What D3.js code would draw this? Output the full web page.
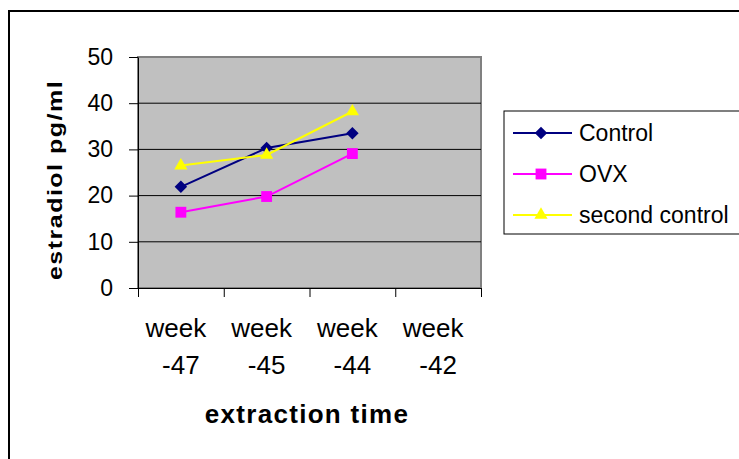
<!DOCTYPE html>
<html>
<head>
<meta charset="utf-8">
<script src="https://cdn.jsdelivr.net/npm/d3@7"></script>
<style>
  body { margin: 0; background: #fff; }
  svg { display: block; font-family: "Liberation Sans", Arial, sans-serif; }
</style>
</head>
<body>
<svg id="chart" width="739" height="459"></svg>
<script>
// data
const weeks = [ '-47', '-45', '-44', '-42' ]
const control = [ 21.9, 30.3, 33.5 ]
const ovx = [ 16.4, 19.8, 29.1 ]
const secondControl = [ 26.5, 28.8, 38.2 ]
const yTicks = [ 0, 10, 20, 30, 40, 50 ]

const series = [
    { name: 'Control', values: control, color: '#000080', marker: d3.symbolDiamond2, size: 100 },
    { name: 'OVX', values: ovx, color: '#ff00ff', marker: d3.symbolSquare2, size: 150 },
    { name: 'second control', values: secondControl, color: '#ffff00', marker: d3.symbolTriangle2, size: 125 }
]

const svg = d3.select( '#chart' )
const plot = { left: 138, right: 481, top: 57, bottom: 288 }

// outer chart frame (runs off the right and bottom)
svg.append( 'rect' )
    .attr( 'x', 9 ).attr( 'y', 11 )
    .attr( 'width', 800 ).attr( 'height', 500 )
    .attr( 'fill', '#fff' ).attr( 'stroke', '#000' ).attr( 'stroke-width', 2 )

const x = d3.scaleBand().domain( weeks ).range( [ plot.left, plot.right ] )
const xEdge = d3.scaleLinear().domain( [ 0, weeks.length ] ).range( [ plot.left, plot.right ] )
const y = d3.scaleLinear().domain( [ 0, 50 ] ).range( [ plot.bottom, plot.top ] )
const cx = d => x( d ) + x.bandwidth() / 2

svg.append( 'rect' )
    .attr( 'x', plot.left ).attr( 'y', plot.top )
    .attr( 'width', plot.right - plot.left ).attr( 'height', plot.bottom - plot.top )
    .attr( 'fill', '#c0c0c0' ).attr( 'stroke', '#808080' ).attr( 'stroke-width', 2 )

svg.append( 'g' )
    .selectAll( 'line' )
    .data( yTicks.filter( t => t > 0 && t < 50 ) )
    .join( 'line' )
    .attr( 'x1', plot.left ).attr( 'x2', plot.right )
    .attr( 'y1', d => y( d ) ).attr( 'y2', d => y( d ) )
    .attr( 'stroke', '#000' ).attr( 'stroke-width', 1 )

const yAxis = svg.append( 'g' )
    .attr( 'transform', `translate(${plot.left},0)` )
    .call( d3.axisLeft( y ).tickValues( yTicks ).tickSizeInner( 9 ).tickSizeOuter( 0 ).tickPadding( 16 ) )
yAxis.select( '.domain' ).attr( 'stroke', '#000' )
yAxis.selectAll( 'text' ).attr( 'font-size', 23 ).attr( 'fill', '#000' ).attr( 'font-family', null )

const xAxis = svg.append( 'g' )
    .attr( 'transform', `translate(0,${plot.bottom})` )
    .call( d3.axisBottom( xEdge ).tickValues( d3.range( weeks.length + 1 ) ).tickFormat( '' ).tickSizeInner( 9 ).tickSizeOuter( 0 ) )
xAxis.select( '.domain' ).attr( 'stroke', '#000' )

const labels = svg.append( 'g' )
    .selectAll( 'text' )
    .data( weeks )
    .join( 'text' )
    .attr( 'text-anchor', 'middle' )
    .attr( 'font-size', 26 )
labels.append( 'tspan' )
    .attr( 'x', d => cx( d ) - 5 )
    .attr( 'y', 337 )
    .text( 'week' )
labels.append( 'tspan' )
    .attr( 'x', d => cx( d ) )
    .attr( 'y', 374 )
    .text( d => d )

// series lines and markers
const line = d3.line()
    .x( ( d, i ) => cx( weeks[i] ) )
    .y( d => y( d ) )

series.forEach( s => {
    svg.append( 'path' )
        .attr( 'd', line( s.values ) )
        .attr( 'fill', 'none' ).attr( 'stroke', s.color ).attr( 'stroke-width', 2 )

    svg.append( 'g' )
        .selectAll( 'path' )
        .data( s.values )
        .join( 'path' )
        .attr( 'transform', ( d, i ) => `translate(${cx( weeks[i] )},${y( d )})` )
        .attr( 'd', d3.symbol( s.marker, s.size ) )
        .attr( 'fill', s.color )
} )

// axis titles
svg.append( 'text' )
    .attr( 'transform', 'translate(62,180) rotate(-90) scale(1.25,1)' )
    .attr( 'text-anchor', 'middle' )
    .attr( 'font-size', 20 ).attr( 'font-weight', 'bold' )
    .attr( 'letter-spacing', 1.2 )
    .text( 'estradiol pg/ml' )

svg.append( 'text' )
    .attr( 'x', 307 ).attr( 'y', 423 )
    .attr( 'text-anchor', 'middle' )
    .attr( 'font-size', 26 ).attr( 'font-weight', 'bold' )
    .attr( 'letter-spacing', 1.3 )
    .text( 'extraction time' )

// legend
const legend = svg.append( 'g' )
legend.append( 'rect' )
    .attr( 'x', 504 ).attr( 'y', 111 )
    .attr( 'width', 300 ).attr( 'height', 123 )
    .attr( 'fill', '#fff' ).attr( 'stroke', '#000' ).attr( 'stroke-width', 1 )

const rows = legend.selectAll( 'g.row' )
    .data( series )
    .join( 'g' )
    .attr( 'class', 'row' )
    .attr( 'transform', ( d, i ) => `translate(0,${133 + i * 41})` )
rows.append( 'line' )
    .attr( 'x1', 513 ).attr( 'x2', 572 )
    .attr( 'stroke', d => d.color ).attr( 'stroke-width', 2 )
rows.append( 'path' )
    .attr( 'transform', 'translate(541,0)' )
    .attr( 'd', d => d3.symbol( d.marker, d.size )() )
    .attr( 'fill', d => d.color )
rows.append( 'text' )
    .attr( 'x', 579 ).attr( 'dy', '0.35em' )
    .attr( 'font-size', 23 )
    .text( d => d.name )
</script>
</body>
</html>
